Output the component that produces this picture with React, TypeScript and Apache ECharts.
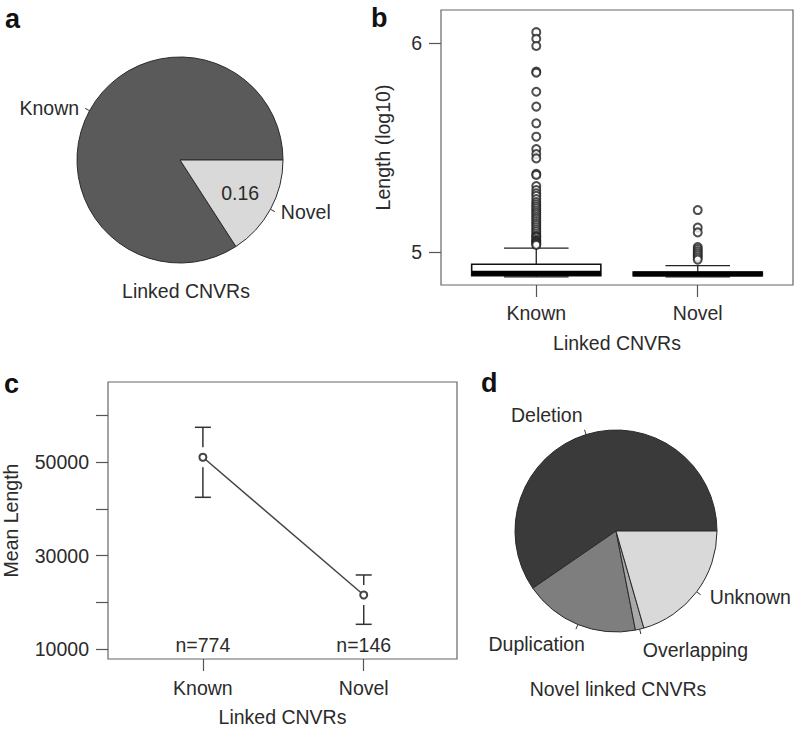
import React, { useEffect, useRef } from 'react';
import * as echarts from 'echarts';

// ---------- data ----------
const linkedCategories = ['Known', 'Novel'];
const linkedCounts = [774, 146];

const novelTypes = ['Deletion', 'Duplication', 'Overlapping', 'Unknown'];
const novelTypeCounts = [87, 27, 2, 30];

// boxplot stats of log10(length): [min, Q1, median, Q3, max]
const boxKnown = [4.882, 4.888, 4.9, 4.943, 5.02];
const boxNovel = [4.882, 4.888, 4.896, 4.905, 4.936];
const outliersKnown = [
  6.053, 6.021, 5.987, 5.864, 5.859, 5.768, 5.697, 5.617, 5.553, 5.494, 5.47, 5.449,
  5.375, 5.37, 5.317, 5.298, 5.282, 5.27, 5.255, 5.24, 5.23, 5.22, 5.21, 5.2, 5.19,
  5.18, 5.17, 5.16, 5.15, 5.14, 5.13, 5.12, 5.11, 5.1, 5.09, 5.08, 5.075, 5.07, 5.06,
  5.055, 5.05, 5.045, 5.04, 5.035,
];
const outliersNovel = [5.202, 5.118, 5.095, 5.025, 5.015, 5.005, 4.995, 4.985, 4.975, 4.965];
const lengthTicks = [5, 6];

const meanLength = [51080, 21570];
const ciLower = [42500, 15290];
const ciUpper = [57500, 25860];
const meanTicks = [10000, 20000, 30000, 40000, 50000, 60000];
const meanTickLabels = [10000, 30000, 50000];

// ---------- styles ----------
const FONT = "'Liberation Sans', Arial, Helvetica, sans-serif";
const TXT = '#2b2b2b';
const FS = 19.5;
const AX = '#555';
// small nudges of the panel-d label texts (as placed in the original figure)
const D_LABEL_NUDGE: [number, number][] = [[4, -15], [15, 15], [-4, 16], [3, 2]];

const xPos = linkedCategories.map((_, i) => i + 1);
const catFormatter = (v: number) => {
  const i = Math.round(v) - 1;
  return Math.abs(v - Math.round(v)) < 1e-6 && linkedCategories[i] ? linkedCategories[i] : '';
};

const B_YMIN = 4.8435;
const C_YMIN = 7857;

export default function App() {
  const ref = useRef<HTMLDivElement>(null);
  useEffect(() => {
    document.body.style.margin = '0';
    const chart = echarts.init(ref.current!, null, { renderer: 'svg' });

    const textStyleBase = { fontFamily: FONT, fontSize: FS, color: TXT };

    const option: any = {
      animation: false,
      backgroundColor: '#fff',
      textStyle: { fontFamily: FONT },
      grid: [
        { left: 441, top: 10, width: 352, height: 275, show: true, borderColor: '#666', borderWidth: 1.2, backgroundColor: 'transparent' },
        { left: 107, top: 382, width: 350, height: 277, show: true, borderColor: '#666', borderWidth: 1.2, backgroundColor: 'transparent' },
      ],
      xAxis: [
        {
          type: 'value', gridIndex: 0, min: 0.41, max: 2.59,
          axisLine: { show: false },
          axisTick: { show: true, customValues: xPos, length: 12, lineStyle: { color: AX, width: 1.2 } },
          axisLabel: { customValues: xPos, formatter: catFormatter, margin: 18, ...textStyleBase },
          splitLine: { show: false },
          name: 'Linked CNVRs', nameLocation: 'middle', nameGap: 48,
          nameTextStyle: textStyleBase,
        },
        {
          type: 'value', gridIndex: 1, min: 0.41, max: 2.58,
          axisLine: { show: false },
          axisTick: { show: true, customValues: xPos, length: 12, lineStyle: { color: AX, width: 1.2 } },
          axisLabel: { customValues: xPos, formatter: catFormatter, margin: 19, ...textStyleBase },
          splitLine: { show: false },
          name: 'Linked CNVRs', nameLocation: 'middle', nameGap: 48,
          nameTextStyle: textStyleBase,
        },
      ],
      yAxis: [
        {
          type: 'value', gridIndex: 0, min: B_YMIN, max: 6.159,
          axisLine: { show: false },
          axisTick: { show: true, customValues: lengthTicks, length: 12, lineStyle: { color: AX, width: 1.2 } },
          axisLabel: { customValues: lengthTicks, formatter: (v: number) => String(v), margin: 19, ...textStyleBase },
          splitLine: { show: false },
          name: 'Length (log10)', nameLocation: 'middle', nameGap: 48, nameRotate: 90,
          nameTextStyle: textStyleBase,
        },
        {
          type: 'value', gridIndex: 1, min: C_YMIN, max: 67204,
          axisLine: { show: false },
          axisTick: { show: true, customValues: meanTicks, length: 12, lineStyle: { color: AX, width: 1.2 } },
          axisLabel: { customValues: meanTickLabels, formatter: (v: number) => String(v), margin: 19, ...textStyleBase },
          splitLine: { show: false },
          name: 'Mean Length', nameLocation: 'middle', nameGap: 87, nameRotate: 90,
          nameTextStyle: textStyleBase,
        },
      ],
      series: [
        // ---------- panel a ----------
        {
          type: 'pie', center: [180, 160], radius: 103, startAngle: 0, clockwise: false,
          avoidLabelOverlap: false, silent: true,
          itemStyle: { borderColor: '#2a2a2a', borderWidth: 1 },
          label: { show: true, position: 'outside', formatter: '{b}', distanceToLabelLine: 6, ...textStyleBase },
          labelLine: { show: true, length: 5, length2: 0, smooth: false, lineStyle: { color: '#333', width: 1 } },
          data: linkedCategories.map((n, i) => ({
            name: n, value: linkedCounts[i],
            itemStyle: { color: ['#5a5a5a', '#d9d9d9'][i] },
          })),
        },
        {
          type: 'pie', center: [180, 160], radius: [30, 101], startAngle: 0, clockwise: false,
          avoidLabelOverlap: false, silent: true,
          itemStyle: { color: 'rgba(0,0,0,0)', borderWidth: 0 },
          label: {
            show: true, position: 'inside',
            formatter: (p: any) => (p.name === 'Novel' ? (p.value / linkedCounts.reduce((a, b) => a + b, 0)).toFixed(2) : ''),
            ...textStyleBase,
          },
          labelLine: { show: false },
          data: linkedCategories.map((n, i) => ({ name: n, value: linkedCounts[i] })),
        },
        // ---------- panel b ----------
        {
          type: 'custom', xAxisIndex: 0, yAxisIndex: 0, silent: true,
          data: [[1, ...boxKnown], [2, ...boxNovel]],
          renderItem: (params: any, api: any) => {
            const x = api.value(0);
            const mn = api.value(1), q1 = api.value(2), md = api.value(3), q3 = api.value(4), mx = api.value(5);
            const [lx, q1y] = api.coord([x - 0.4, q1]);
            const [rx, q3y] = api.coord([x + 0.4, q3]);
            const [cx, mdy] = api.coord([x, md]);
            const [, mny] = api.coord([x, mn]);
            const [, mxy] = api.coord([x, mx]);
            const [clx] = api.coord([x - 0.2, md]);
            const [crx] = api.coord([x + 0.2, md]);
            const st = { stroke: '#222', lineWidth: 1.3 };
            return {
              type: 'group',
              children: [
                { type: 'line', shape: { x1: cx, y1: q3y, x2: cx, y2: mxy }, style: st },
                { type: 'line', shape: { x1: cx, y1: q1y, x2: cx, y2: mny }, style: st },
                { type: 'line', shape: { x1: clx, y1: mxy, x2: crx, y2: mxy }, style: st },
                { type: 'line', shape: { x1: clx, y1: mny, x2: crx, y2: mny }, style: st },
                { type: 'rect', shape: { x: lx, y: q3y, width: rx - lx, height: q1y - q3y }, style: { fill: '#fff', stroke: '#111', lineWidth: 1.6 } },
                { type: 'line', shape: { x1: lx, y1: mdy, x2: rx, y2: mdy }, style: { stroke: '#000', lineWidth: 5 } },
              ],
            };
          },
        },
        {
          type: 'scatter', xAxisIndex: 0, yAxisIndex: 0, silent: true,
          symbol: 'emptyCircle', symbolSize: 8,
          itemStyle: { color: '#222', borderWidth: 1.4 },
          data: [
            ...outliersKnown.map((v) => [1, v]),
            ...outliersNovel.map((v) => [2, v]),
          ],
        },
        // ---------- panel c ----------
        {
          type: 'custom', xAxisIndex: 1, yAxisIndex: 1, silent: true,
          data: xPos.map((x, i) => [x, meanLength[i], ciLower[i], ciUpper[i]]),
          renderItem: (params: any, api: any) => {
            const x = api.value(0);
            const [cx, my] = api.coord([x, api.value(1)]);
            const [, ly] = api.coord([x, api.value(2)]);
            const [, uy] = api.coord([x, api.value(3)]);
            const gap = 10, cap = 8;
            const st = { stroke: '#333', lineWidth: 1.5 };
            const ch: any[] = [
              { type: 'line', shape: { x1: cx - cap, y1: uy, x2: cx + cap, y2: uy }, style: st },
              { type: 'line', shape: { x1: cx - cap, y1: ly, x2: cx + cap, y2: ly }, style: st },
            ];
            if (my - gap > uy) ch.push({ type: 'line', shape: { x1: cx, y1: uy, x2: cx, y2: my - gap }, style: st });
            if (my + gap < ly) ch.push({ type: 'line', shape: { x1: cx, y1: my + gap, x2: cx, y2: ly }, style: st });
            return { type: 'group', children: ch };
          },
        },
        {
          type: 'line', xAxisIndex: 1, yAxisIndex: 1, silent: true,
          symbol: 'emptyCircle', symbolSize: 7,
          lineStyle: { color: '#444', width: 1.5 },
          itemStyle: { color: '#444', borderWidth: 1.3 },
          data: xPos.map((x, i) => [x, meanLength[i]]),
        },
        {
          type: 'custom', xAxisIndex: 1, yAxisIndex: 1, silent: true,
          data: xPos.map((x, i) => [x, linkedCounts[i]]),
          renderItem: (params: any, api: any) => {
            const [cx, by] = api.coord([api.value(0), C_YMIN]);
            return {
              type: 'text', x: cx, y: by - 14,
              style: { text: 'n=' + api.value(1), fill: TXT, font: `${FS}px ${FONT}`, align: 'center', verticalAlign: 'middle' },
            };
          },
        },
        // ---------- panel d ----------
        {
          type: 'pie', center: [616, 531], radius: 101, startAngle: 0, clockwise: false,
          avoidLabelOverlap: false, silent: true,
          itemStyle: { borderColor: '#2a2a2a', borderWidth: 1 },
          label: { show: true, position: 'outside', formatter: ' ', distanceToLabelLine: 6, ...textStyleBase },
          labelLine: { show: true, length: 5, length2: 0, smooth: false, lineStyle: { color: '#333', width: 1 } },
          data: novelTypes.map((n, i) => ({
            name: n, value: novelTypeCounts[i],
            itemStyle: { color: ['#3a3a3a', '#7e7e7e', '#a9a9a9', '#d9d9d9'][i] },
          })),
        },
        {
          type: 'pie', center: [616, 531], radius: 101, startAngle: 0, clockwise: false,
          avoidLabelOverlap: false, silent: true,
          itemStyle: { color: 'rgba(0,0,0,0)', borderWidth: 0 },
          label: { show: true, position: 'outside', formatter: '{b}', distanceToLabelLine: 6, ...textStyleBase },
          labelLine: { show: false, length: 5, length2: 0 },
          labelLayout: (p: any) => {
            const n = D_LABEL_NUDGE[p.dataIndex] || [0, 0];
            return { dx: n[0], dy: n[1] };
          },
          data: novelTypes.map((n, i) => ({ name: n, value: novelTypeCounts[i] })),
        },
      ],
      graphic: [
        { type: 'text', left: 5, top: 5, style: { text: 'a', font: `bold 27px ${FONT}`, fill: '#111' } },
        { type: 'text', left: 371, top: 4, style: { text: 'b', font: `bold 27px ${FONT}`, fill: '#111' } },
        { type: 'text', left: 4, top: 370, style: { text: 'c', font: `bold 27px ${FONT}`, fill: '#111' } },
        { type: 'text', left: 481, top: 369, style: { text: 'd', font: `bold 27px ${FONT}`, fill: '#111' } },
        { type: 'text', x: 186, y: 290.5, style: { text: 'Linked CNVRs', font: `${FS}px ${FONT}`, fill: TXT, align: 'center', verticalAlign: 'middle' } },
        { type: 'text', x: 618, y: 689, style: { text: 'Novel linked CNVRs', font: `${FS}px ${FONT}`, fill: TXT, align: 'center', verticalAlign: 'middle' } },
      ],
    };
    chart.setOption(option);
    return () => chart.dispose();
  }, []);
  return <div ref={ref} style={{ width: 794, height: 729 }} />;
}
